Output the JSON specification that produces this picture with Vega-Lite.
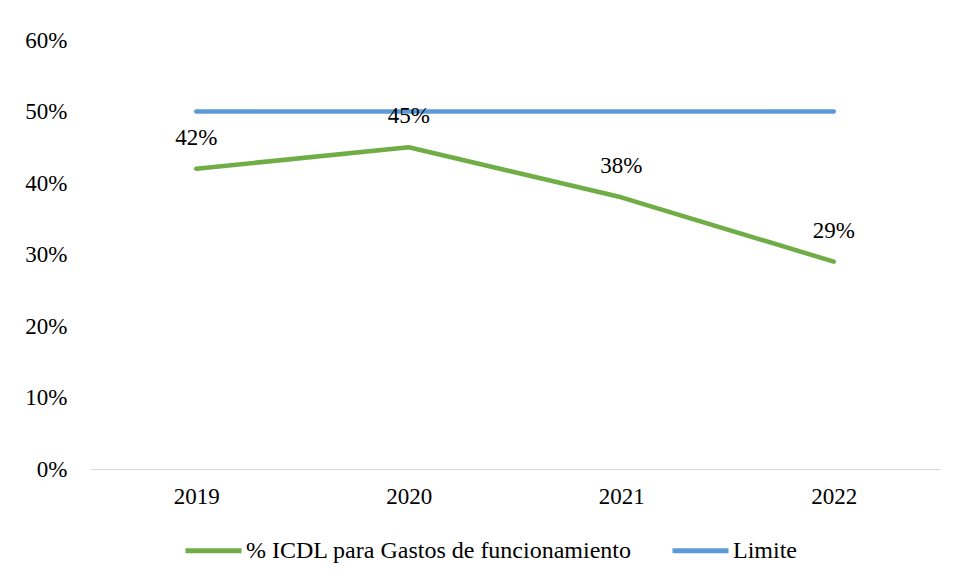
{
  "$schema": "https://vega.github.io/schema/vega-lite/v6.json",
  "autosize": {"type": "none"},
  "width": 850,
  "height": 429,
  "padding": {"left": 90, "top": 40, "right": 16, "bottom": 114},
  "background": "white",
  "config": {
    "view": {"stroke": null},
    "font": "Liberation Serif",
    "axis": {"labelFont": "Liberation Serif", "labelFontSize": 23, "labelColor": "#000000", "grid": false, "ticks": false, "title": null},
    "legend": {"labelFont": "Liberation Serif", "labelFontSize": 24, "labelColor": "#000000", "labelLimit": 0}
  },
  "data": {
    "values": [
      {"year": "2019", "series": "% ICDL para Gastos de funcionamiento", "value": 0.42},
      {"year": "2020", "series": "% ICDL para Gastos de funcionamiento", "value": 0.45},
      {"year": "2021", "series": "% ICDL para Gastos de funcionamiento", "value": 0.38},
      {"year": "2022", "series": "% ICDL para Gastos de funcionamiento", "value": 0.29},
      {"year": "2019", "series": "Limite", "value": 0.5},
      {"year": "2020", "series": "Limite", "value": 0.5},
      {"year": "2021", "series": "Limite", "value": 0.5},
      {"year": "2022", "series": "Limite", "value": 0.5}
    ]
  },
  "encoding": {
    "x": {
      "field": "year", "type": "ordinal",
      "scale": {"type": "point", "padding": 0.5},
      "axis": {"labelAngle": 0, "labelPadding": 16, "domain": true, "domainColor": "#D9D9D9", "domainWidth": 1}
    },
    "y": {
      "field": "value", "type": "quantitative",
      "scale": {"domain": [0, 0.6], "nice": false},
      "axis": {"format": ".0%", "values": [0, 0.1, 0.2, 0.3, 0.4, 0.5, 0.6], "domain": false, "labelPadding": 23}
    }
  },
  "layer": [
    {
      "mark": {"type": "line", "strokeWidth": 4.5, "strokeCap": "round", "strokeJoin": "round"},
      "encoding": {
        "color": {
          "field": "series", "type": "nominal",
          "scale": {"domain": ["% ICDL para Gastos de funcionamiento", "Limite"], "range": ["#70AD47", "#5B9BD5"]},
          "legend": {
            "title": null, "orient": "none", "direction": "horizontal",
            "legendX": 93, "legendY": 480,
            "symbolType": "stroke", "symbolSize": 3136, "symbolStrokeWidth": 5,
            "labelOffset": 2, "columnPadding": 30
          }
        }
      }
    },
    {
      "transform": [{"filter": "datum.series !== 'Limite'"}],
      "mark": {"type": "text", "dy": -31, "fontSize": 23, "font": "Liberation Serif", "color": "#000000", "baseline": "middle"},
      "encoding": {
        "text": {"field": "value", "type": "quantitative", "format": ".0%"}
      }
    }
  ]
}
